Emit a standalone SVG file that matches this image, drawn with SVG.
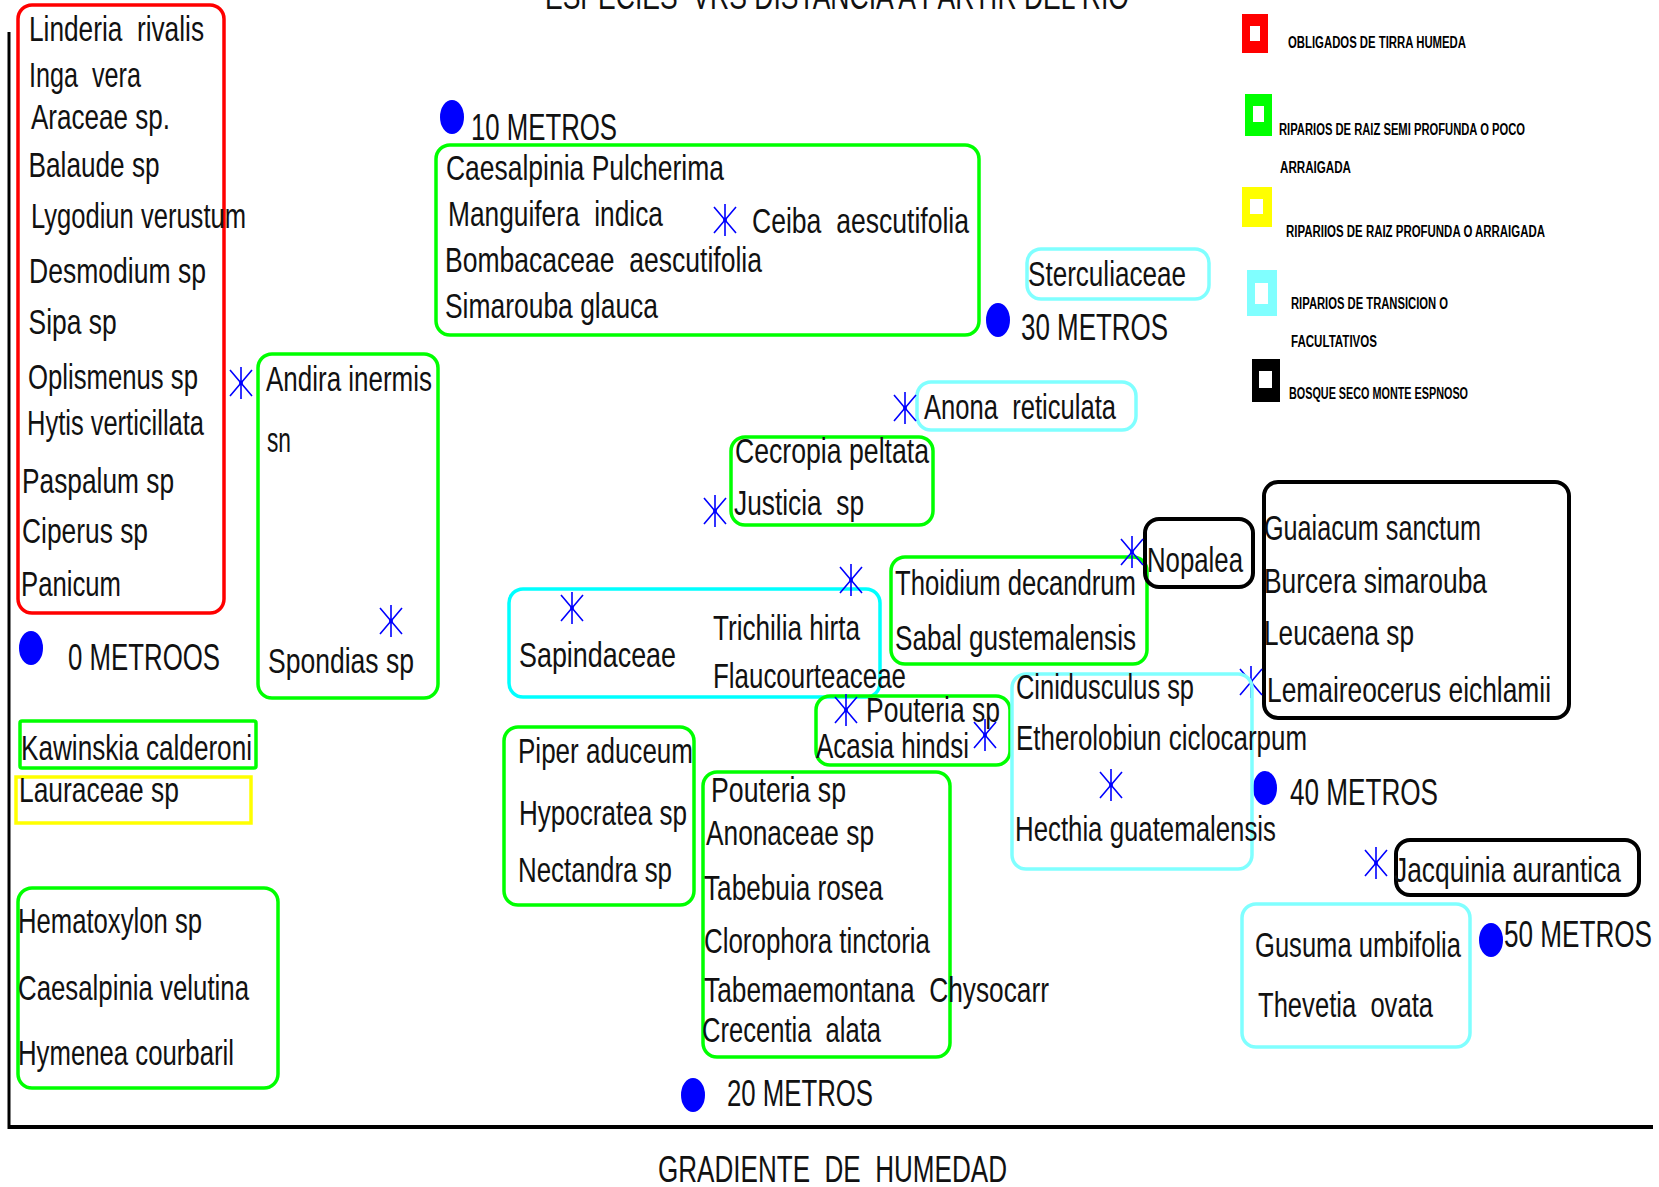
<svg xmlns="http://www.w3.org/2000/svg" xmlns:xlink="http://www.w3.org/1999/xlink" width="1659" height="1187" viewBox="0 0 1659 1187">
  <style>
    .t { font-family: "Liberation Sans", Arial, sans-serif; font-size: 35px; fill: #111; white-space: pre; }
    .m { font-size: 36px; }
    .lg { font-family: "Liberation Sans", Arial, sans-serif; font-size: 16px; font-weight: bold; fill: #000; white-space: pre; }
    .box { fill: none; stroke-width: 3.5; }
    .red { stroke: #ff0000; }
    .grn { stroke: #00ff00; }
    .yel { stroke: #ffff00; }
    .cya { stroke: #00ffff; }
    .lcy { stroke: #80ffff; }
    .blk { stroke: #000; stroke-width: 4; }
    .dot { fill: #0000ff; }
    .axis { stroke: #000; fill: none; }
  </style>
  <defs>
    <g id="ast">
      <path d="M0,-16V16M-11,-13L11,13M-11,13L11,-13" stroke="#0000ff" stroke-width="1.6" fill="none"/>
      <circle r="2" fill="#0000ff"/>
    </g>
  </defs>
  <rect width="1659" height="1187" fill="#fff"/>

  <!-- title, partly above the page edge -->
  <text class="t m" x="545" y="9" textLength="584" lengthAdjust="spacingAndGlyphs">ESPECIES  VRS DISTANCIA A PARTIR DEL RIO</text>

  <!-- axes -->
  <g id="connectors">
    <path class="axis" d="M9,32V1129" stroke-width="3"/>
    <path class="axis" d="M8,1127H1653" stroke-width="4"/>
  </g>
  <text class="t m" x="658" y="1182" textLength="349" lengthAdjust="spacingAndGlyphs">GRADIENTE  DE  HUMEDAD</text>

  <!-- distance markers -->
  <g id="marker-0m">
    <ellipse class="dot" cx="31" cy="648" rx="12" ry="17"/>
    <text class="t m" x="68" y="670" textLength="152" lengthAdjust="spacingAndGlyphs">0 METROOS</text>
  </g>
  <g id="marker-10m">
    <ellipse class="dot" cx="452" cy="117" rx="12" ry="17"/>
    <text class="t m" x="471" y="140" textLength="146" lengthAdjust="spacingAndGlyphs">10 METROS</text>
  </g>
  <g id="marker-20m">
    <ellipse class="dot" cx="693" cy="1095" rx="12" ry="17"/>
    <text class="t m" x="727" y="1106" textLength="146" lengthAdjust="spacingAndGlyphs">20 METROS</text>
  </g>
  <g id="marker-30m">
    <ellipse class="dot" cx="998" cy="320" rx="12" ry="17"/>
    <text class="t m" x="1021" y="340" textLength="147" lengthAdjust="spacingAndGlyphs">30 METROS</text>
  </g>
  <g id="marker-40m">
    <ellipse class="dot" cx="1265" cy="788" rx="12" ry="17"/>
    <text class="t m" x="1290" y="805" textLength="148" lengthAdjust="spacingAndGlyphs">40 METROS</text>
  </g>
  <g id="marker-50m">
    <ellipse class="dot" cx="1491" cy="940" rx="12" ry="17"/>
    <text class="t m" x="1504" y="947" textLength="148" lengthAdjust="spacingAndGlyphs">50 METROS</text>
  </g>

  <!-- species groups -->
  <g id="grp-obligados">
    <rect class="box red" x="18" y="5" width="206" height="608" rx="14"/>
    <text class="t" x="29" y="41" textLength="175" lengthAdjust="spacingAndGlyphs">Linderia  rivalis</text>
    <text class="t" x="29" y="87" textLength="112" lengthAdjust="spacingAndGlyphs">Inga  vera</text>
    <text class="t" x="31" y="129" textLength="139" lengthAdjust="spacingAndGlyphs">Araceae sp.</text>
    <text class="t" x="28.6" y="177" textLength="131" lengthAdjust="spacingAndGlyphs">Balaude sp</text>
    <text class="t" x="31" y="228" textLength="215" lengthAdjust="spacingAndGlyphs">Lygodiun verustum</text>
    <text class="t" x="29" y="283" textLength="177" lengthAdjust="spacingAndGlyphs">Desmodium sp</text>
    <text class="t" x="28.6" y="334" textLength="88" lengthAdjust="spacingAndGlyphs">Sipa sp</text>
    <text class="t" x="28" y="389" textLength="170" lengthAdjust="spacingAndGlyphs">Oplismenus sp</text>
    <text class="t" x="27" y="435" textLength="177" lengthAdjust="spacingAndGlyphs">Hytis verticillata</text>
    <text class="t" x="22" y="493" textLength="152" lengthAdjust="spacingAndGlyphs">Paspalum sp</text>
    <text class="t" x="22" y="543" textLength="126" lengthAdjust="spacingAndGlyphs">Ciperus sp</text>
    <text class="t" x="21" y="596" textLength="100" lengthAdjust="spacingAndGlyphs">Panicum</text>
  </g>

  <g id="grp-andira">
    <rect class="box grn" x="258" y="354" width="180" height="344" rx="14"/>
    <use xlink:href="#ast" href="#ast" x="241" y="383"/>
    <use xlink:href="#ast" href="#ast" x="391" y="621"/>
    <text class="t" x="266" y="391" textLength="166" lengthAdjust="spacingAndGlyphs">Andira inermis</text>
    <text class="t" x="267" y="452" textLength="24" lengthAdjust="spacingAndGlyphs">sn</text>
    <text class="t" x="268" y="673" textLength="146" lengthAdjust="spacingAndGlyphs">Spondias sp</text>
  </g>

  <g id="grp-caesalpinia">
    <rect class="box grn" x="436" y="145" width="543" height="190" rx="14"/>
    <use xlink:href="#ast" href="#ast" x="725" y="220"/>
    <text class="t" x="446" y="180" textLength="278" lengthAdjust="spacingAndGlyphs">Caesalpinia Pulcherima</text>
    <text class="t" x="448" y="226" textLength="215" lengthAdjust="spacingAndGlyphs">Manguifera  indica</text>
    <text class="t" x="445" y="272" textLength="317" lengthAdjust="spacingAndGlyphs">Bombacaceae  aescutifolia</text>
    <text class="t" x="445" y="318" textLength="213" lengthAdjust="spacingAndGlyphs">Simarouba glauca</text>
    <text class="t" x="752" y="233" textLength="217" lengthAdjust="spacingAndGlyphs">Ceiba  aescutifolia</text>
  </g>

  <g id="grp-sterculiaceae">
    <rect class="box lcy" x="1027" y="249" width="182" height="50" rx="14"/>
    <text class="t" x="1028" y="286" textLength="158" lengthAdjust="spacingAndGlyphs">Sterculiaceae</text>
  </g>

  <g id="grp-anona">
    <rect class="box lcy" x="917" y="382" width="219" height="48" rx="14"/>
    <use xlink:href="#ast" href="#ast" x="905" y="408"/>
    <text class="t" x="924" y="419" textLength="192" lengthAdjust="spacingAndGlyphs">Anona  reticulata</text>
  </g>

  <g id="grp-cecropia">
    <rect class="box grn" x="731" y="437" width="202" height="88" rx="14"/>
    <use xlink:href="#ast" href="#ast" x="715" y="511"/>
    <text class="t" x="735" y="463" textLength="194" lengthAdjust="spacingAndGlyphs">Cecropia peltata</text>
    <text class="t" x="734" y="515" textLength="130" lengthAdjust="spacingAndGlyphs">Justicia  sp</text>
  </g>

  <g id="grp-thoidium">
    <rect class="box grn" x="891" y="557" width="256" height="107" rx="14"/>
    <text class="t" x="895" y="595" textLength="241" lengthAdjust="spacingAndGlyphs">Thoidium decandrum</text>
    <text class="t" x="895" y="650" textLength="241" lengthAdjust="spacingAndGlyphs">Sabal gustemalensis</text>
  </g>

  <g id="grp-nopalea">
    <rect class="box blk" x="1145" y="519" width="108" height="68" rx="14"/>
    <use xlink:href="#ast" href="#ast" x="1132" y="552"/>
    <text class="t" x="1147" y="572" textLength="96" lengthAdjust="spacingAndGlyphs">Nopalea</text>
  </g>

  <g id="grp-guaiacum">
    <rect class="box blk" x="1264" y="482" width="305" height="236" rx="14"/>
    <use xlink:href="#ast" href="#ast" x="1251" y="682"/>
    <text class="t" x="1264" y="540" textLength="217" lengthAdjust="spacingAndGlyphs">Guaiacum sanctum</text>
    <text class="t" x="1264" y="593" textLength="223" lengthAdjust="spacingAndGlyphs">Burcera simarouba</text>
    <text class="t" x="1264" y="645" textLength="150" lengthAdjust="spacingAndGlyphs">Leucaena sp</text>
    <text class="t" x="1267" y="702" textLength="284" lengthAdjust="spacingAndGlyphs">Lemaireocerus eichlamii</text>
  </g>

  <g id="grp-sapindaceae">
    <rect class="box cya" x="509" y="589" width="371" height="108" rx="14"/>
    <use xlink:href="#ast" href="#ast" x="572" y="608"/>
    <use xlink:href="#ast" href="#ast" x="851" y="580"/>
    <text class="t" x="519" y="667" textLength="157" lengthAdjust="spacingAndGlyphs">Sapindaceae</text>
    <text class="t" x="713" y="640" textLength="147" lengthAdjust="spacingAndGlyphs">Trichilia hirta</text>
    <text class="t" x="713" y="688" textLength="193" lengthAdjust="spacingAndGlyphs">Flaucourteaceae</text>
  </g>

  <g id="grp-acasia">
    <rect class="box grn" x="816" y="696" width="194" height="69" rx="14"/>
    <use xlink:href="#ast" href="#ast" x="846" y="710"/>
    <use xlink:href="#ast" href="#ast" x="985" y="735"/>
    <text class="t" x="866" y="722" textLength="134" lengthAdjust="spacingAndGlyphs">Pouteria sp</text>
    <text class="t" x="816" y="758" textLength="153" lengthAdjust="spacingAndGlyphs">Acasia hindsi</text>
  </g>

  <g id="grp-cinidusculus">
    <rect class="box lcy" x="1012" y="674" width="240" height="195" rx="14"/>
    <use xlink:href="#ast" href="#ast" x="1111" y="785"/>
    <text class="t" x="1016" y="699" textLength="178" lengthAdjust="spacingAndGlyphs">Cinidusculus sp</text>
    <text class="t" x="1016" y="750" textLength="291" lengthAdjust="spacingAndGlyphs">Etherolobiun ciclocarpum</text>
    <text class="t" x="1015" y="841" textLength="261" lengthAdjust="spacingAndGlyphs">Hecthia guatemalensis</text>
  </g>

  <g id="grp-jacquinia">
    <rect class="box blk" x="1396" y="840" width="243" height="55" rx="14"/>
    <use xlink:href="#ast" href="#ast" x="1376" y="863"/>
    <text class="t" x="1394" y="882" textLength="227" lengthAdjust="spacingAndGlyphs">Jacquinia aurantica</text>
  </g>

  <g id="grp-gusuma">
    <rect class="box lcy" x="1242" y="904" width="228" height="143" rx="14"/>
    <text class="t" x="1255" y="957" textLength="206" lengthAdjust="spacingAndGlyphs">Gusuma umbifolia</text>
    <text class="t" x="1258" y="1017" textLength="175" lengthAdjust="spacingAndGlyphs">Thevetia  ovata</text>
  </g>

  <g id="grp-piper">
    <rect class="box grn" x="504" y="727" width="190" height="178" rx="14"/>
    <text class="t" x="518" y="763" textLength="175" lengthAdjust="spacingAndGlyphs">Piper aduceum</text>
    <text class="t" x="519" y="825" textLength="168" lengthAdjust="spacingAndGlyphs">Hypocratea sp</text>
    <text class="t" x="518" y="882" textLength="154" lengthAdjust="spacingAndGlyphs">Nectandra sp</text>
  </g>

  <g id="grp-pouteria">
    <rect class="box grn" x="703" y="772" width="247" height="285" rx="14"/>
    <text class="t" x="711" y="802" textLength="135" lengthAdjust="spacingAndGlyphs">Pouteria sp</text>
    <text class="t" x="706" y="845" textLength="168" lengthAdjust="spacingAndGlyphs">Anonaceae sp</text>
    <text class="t" x="704" y="900" textLength="179" lengthAdjust="spacingAndGlyphs">Tabebuia rosea</text>
    <text class="t" x="704" y="953" textLength="226" lengthAdjust="spacingAndGlyphs">Clorophora tinctoria</text>
    <text class="t" x="704" y="1002" textLength="345" lengthAdjust="spacingAndGlyphs">Tabemaemontana  Chysocarr</text>
    <text class="t" x="702" y="1042" textLength="179" lengthAdjust="spacingAndGlyphs">Crecentia  alata</text>
  </g>

  <g id="grp-kawinskia">
    <rect class="box grn" x="20" y="721" width="236" height="47" rx="2"/>
    <text class="t" x="21" y="760" textLength="231" lengthAdjust="spacingAndGlyphs">Kawinskia calderoni</text>
  </g>

  <g id="grp-lauraceae">
    <rect class="box yel" x="16" y="777" width="235" height="46"/>
    <text class="t" x="19" y="802" textLength="160" lengthAdjust="spacingAndGlyphs">Lauraceae sp</text>
  </g>

  <g id="grp-hematoxylon">
    <rect class="box grn" x="18" y="888" width="260" height="200" rx="14"/>
    <text class="t" x="18" y="933" textLength="184" lengthAdjust="spacingAndGlyphs">Hematoxylon sp</text>
    <text class="t" x="18" y="1000" textLength="231" lengthAdjust="spacingAndGlyphs">Caesalpinia velutina</text>
    <text class="t" x="18" y="1065" textLength="216" lengthAdjust="spacingAndGlyphs">Hymenea courbaril</text>
  </g>

  <!-- legend -->
  <g id="legend">
    <rect x="1242" y="14" width="26" height="39" fill="#ff0000"/>
    <rect x="1250" y="26" width="10" height="15" fill="#fff"/>
    <text class="lg" x="1288" y="48" textLength="178" lengthAdjust="spacingAndGlyphs">OBLIGADOS DE TIRRA HUMEDA</text>

    <rect x="1245" y="94" width="27" height="42" fill="#00ff00"/>
    <rect x="1253" y="106" width="11" height="16" fill="#fff"/>
    <text class="lg" x="1279" y="135" textLength="246" lengthAdjust="spacingAndGlyphs">RIPARIOS DE RAIZ SEMI PROFUNDA O POCO</text>
    <text class="lg" x="1280" y="173" textLength="71" lengthAdjust="spacingAndGlyphs">ARRAIGADA</text>

    <rect x="1242" y="187" width="30" height="40" fill="#ffff00"/>
    <rect x="1250" y="199" width="13" height="15" fill="#fff"/>
    <text class="lg" x="1286" y="237" textLength="259" lengthAdjust="spacingAndGlyphs">RIPARIIOS DE RAIZ PROFUNDA O ARRAIGADA</text>

    <rect x="1247" y="270" width="30" height="46" fill="#80ffff"/>
    <rect x="1255" y="283" width="13" height="21" fill="#fff"/>
    <text class="lg" x="1291" y="309" textLength="157" lengthAdjust="spacingAndGlyphs">RIPARIOS DE TRANSICION O</text>
    <text class="lg" x="1291" y="347" textLength="86" lengthAdjust="spacingAndGlyphs">FACULTATIVOS</text>

    <rect x="1252" y="359" width="28" height="43" fill="#000"/>
    <rect x="1259" y="371" width="13" height="17" fill="#fff"/>
    <text class="lg" x="1289" y="399" textLength="179" lengthAdjust="spacingAndGlyphs">BOSQUE SECO MONTE ESPNOSO</text>
  </g>
</svg>
